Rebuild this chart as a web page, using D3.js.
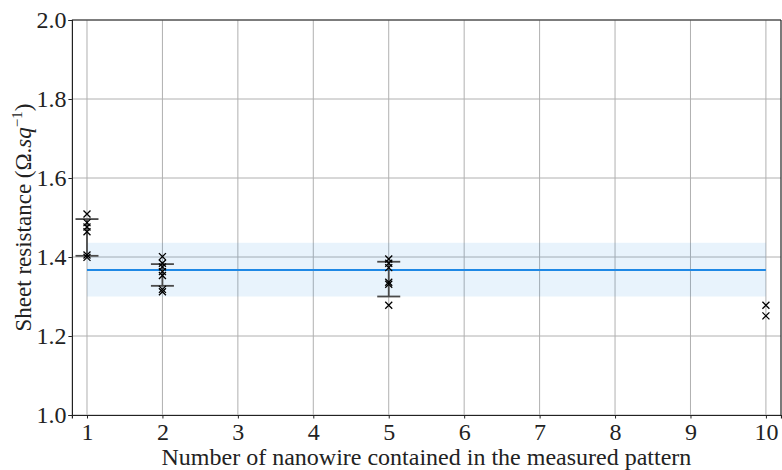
<!DOCTYPE html>
<html><head><meta charset="utf-8">
<script src="https://cdn.jsdelivr.net/npm/d3@7"></script>
<style>body{margin:0;background:#fff}svg{display:block}text{font-family:"Liberation Serif","DejaVu Serif",serif;fill:#222}</style>
</head><body><div id="c"></div>
<script>
const xTicks = [1,2,3,4,5,6,7,8,9,10];
const yTicks = [1.0,1.2,1.4,1.6,1.8,2.0];
const groups = [1,2,5,10];
const points = [
  [1.509,1.487,1.476,1.464,1.405,1.399],
  [1.401,1.384,1.375,1.363,1.353,1.318,1.312],
  [1.395,1.384,1.373,1.336,1.331,1.278],
  [1.278,1.251]
];
const errLow = [1.403,1.327,1.300,null];
const errHigh = [1.496,1.382,1.388,null];
const meanValue = 1.367;
const bandLow = 1.300;
const bandHigh = 1.436;

const W=782,H=470;
const m={l:71.9,r:1,t:20,b:55};
const svg=d3.select("#c").append("svg").attr("width",W).attr("height",H);
const x=d3.scaleLinear().domain([0.8,10.2]).range([m.l,W-m.r]);
const y=d3.scaleLinear().domain([1.0,2.0]).range([H-m.b,m.t]);

// grid
svg.append("g").selectAll("line").data(xTicks).join("line")
  .attr("x1",d=>x(d)).attr("x2",d=>x(d)).attr("y1",y(1)).attr("y2",y(2))
  .attr("stroke","#b0b0b0").attr("stroke-width",1);
svg.append("g").selectAll("line").data(yTicks).join("line")
  .attr("x1",x(0.8)).attr("x2",x(10.2)).attr("y1",d=>y(d)).attr("y2",d=>y(d))
  .attr("stroke","#b0b0b0").attr("stroke-width",1);

// band and mean
svg.append("rect").attr("x",x(1)).attr("width",x(10)-x(1))
  .attr("y",y(bandHigh)).attr("height",y(bandLow)-y(bandHigh))
  .attr("fill","#1e88e5").attr("fill-opacity",0.1);
svg.append("line").attr("x1",x(1)).attr("x2",x(10)).attr("y1",y(meanValue)).attr("y2",y(meanValue))
  .attr("stroke","#1e88e5").attr("stroke-width",2);

// error bars
const eb=svg.append("g").attr("stroke","#4a4a4a").attr("stroke-width",1.8);
groups.forEach((g,i)=>{
  if(errLow[i]==null) return;
  eb.append("line").attr("x1",x(g)).attr("x2",x(g)).attr("y1",y(errLow[i])).attr("y2",y(errHigh[i]));
  [errLow[i],errHigh[i]].forEach(v=>eb.append("line").attr("x1",x(g)-11.5).attr("x2",x(g)+11.5).attr("y1",y(v)).attr("y2",y(v)));
});

// markers
const mk=svg.append("g").attr("stroke","#000").attr("stroke-width",1.3);
groups.forEach((g,i)=>{
  points[i].forEach(v=>{
    const cx=x(g),cy=y(v),s=3.5;
    mk.append("path").attr("d",`M${cx-s},${cy-s}L${cx+s},${cy+s}M${cx-s},${cy+s}L${cx+s},${cy-s}`);
  });
});

// axes
const ax=svg.append("g").attr("transform",`translate(0,${y(1)})`)
  .call(d3.axisBottom(x).tickValues(xTicks).tickFormat(d3.format("d")).tickSize(3.5).tickPadding(4));
const ay=svg.append("g").attr("transform",`translate(${m.l},0)`)
  .call(d3.axisLeft(y).tickValues(yTicks).tickFormat(d3.format(".1f")).tickSize(3.5).tickPadding(2));
[ax,ay].forEach(a=>{a.select(".domain").attr("stroke","#222").attr("stroke-width",1.2);
  a.selectAll(".tick line").attr("stroke","#222");
  a.selectAll("text").attr("font-size",24).attr("fill","#222").attr("font-family","Liberation Serif, serif");});
const frame=svg.append("g").attr("stroke","#222").attr("stroke-width",1.2);
frame.append("line").attr("x1",m.l).attr("x2",x(10.2)).attr("y1",y(2)).attr("y2",y(2));
frame.append("line").attr("x1",x(10.2)).attr("x2",x(10.2)).attr("y1",y(2)).attr("y2",y(1));

// labels
svg.append("text").attr("x",(x(0.8)+x(10.2))/2).attr("y",465).attr("text-anchor","middle")
  .attr("font-size",24).text("Number of nanowire contained in the measured pattern");
const yl=svg.append("text").attr("transform",`translate(31,${(y(1)+y(2))/2}) rotate(-90)`)
  .attr("text-anchor","middle").attr("font-size",23);
yl.append("tspan").text("Sheet resistance (Ω.");
yl.append("tspan").attr("font-style","italic").text("sq");
yl.append("tspan").attr("font-size",15).attr("dy",-9).text("−1");
yl.append("tspan").attr("dy",9).text(")");
</script></body></html>
